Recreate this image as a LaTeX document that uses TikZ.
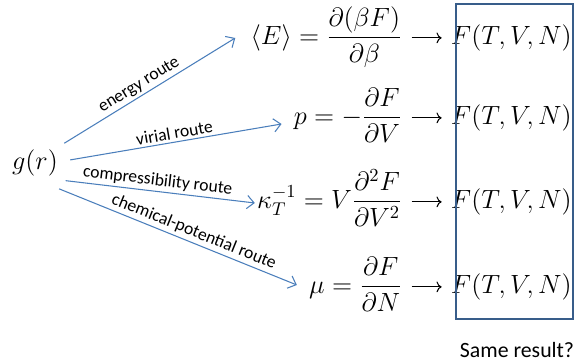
\RequirePackage{fix-cm}
\documentclass[tikz,border=0pt]{standalone}
\usepackage{amsmath}
\usepackage{fontspec}
\newfontfamily\labelfont{Carlito}
\usetikzlibrary{arrows.meta}
\definecolor{routeblue}{HTML}{4A7EBB}
\definecolor{boxblue}{HTML}{385D8A}
\tikzset{
  route/.style={draw=routeblue,line width=.6pt,-{Straight Barb[length=4pt,width=7.5pt]}},
  routelabel/.style={font=\labelfont\fontsize{10}{11}\selectfont,sloped,above,inner sep=1.5pt},
  eqnode/.style={anchor=base east,inner sep=0pt,font=\fontsize{15}{18}\selectfont},
  eqto/.style={-{To},line width=.6pt,shorten <=.18cm,shorten >=.18cm}
}
\begin{document}
\begin{tikzpicture}[x=1cm,y=1cm]
\useasboundingbox (0,0) rectangle (11.52,7.28);
\node[circle,inner sep=0pt,minimum size=1.4cm,font=\fontsize{15}{18}\selectfont] (g) at (.70,4.02) {$g(r)$};
\node[eqnode] (eqE) at (8.05,6.39) {$\displaystyle\langle E\rangle=\frac{\partial(\beta F)}{\partial\beta}$};
\node[eqnode] (eqp) at (8.05,4.79) {$\displaystyle p=-\frac{\partial F}{\partial V}$};
\node[eqnode] (eqk) at (8.05,3.11) {$\displaystyle\kappa_T^{-1}=V\frac{\partial^2F}{\partial V^2}$};
\node[eqnode] (eqmu) at (8.05,1.41) {$\displaystyle\mu=\frac{\partial F}{\partial N}$};
\node[eqnode] (FE) at (11.44,6.39) {$F(T,V,N)$};
\node[eqnode] (Fp) at (11.44,4.79) {$F(T,V,N)$};
\node[eqnode] (Fk) at (11.44,3.11) {$F(T,V,N)$};
\node[eqnode] (Fmu) at (11.44,1.41) {$F(T,V,N)$};
\draw[route] (g.34)--([xshift=-.30cm,yshift=.13cm]eqE.base west) node[routelabel,pos=.47] {energy route};
\draw[route] (g.5)--([xshift=-.24cm,yshift=.01cm]eqp.base west) node[routelabel,pos=.5] {virial route};
\draw[route] (g.-30)--([xshift=-.04cm,yshift=.11cm]eqk.base west) node[routelabel,pos=.48] {compressibility route};
\draw[route] (g.-47)--([xshift=-.24cm,yshift=.17cm]eqmu.base west) node[routelabel,pos=.55] {chemical-potential route};
\draw[eqto] (eqE.east |- FE.west)--(FE.west);
\draw[eqto] (eqp.east |- Fp.west)--(Fp.west);
\draw[eqto] (eqk.east |- Fk.west)--(Fk.west);
\draw[eqto] (eqmu.east |- Fmu.west)--(Fmu.west);
\draw[boxblue,line width=1.4pt] (9.12,7.20) rectangle (11.46,.90);
\node[font=\labelfont\fontsize{12.4}{14}\selectfont] (same) at (10.34,.28) {Same result?};
\end{tikzpicture}
\end{document}
